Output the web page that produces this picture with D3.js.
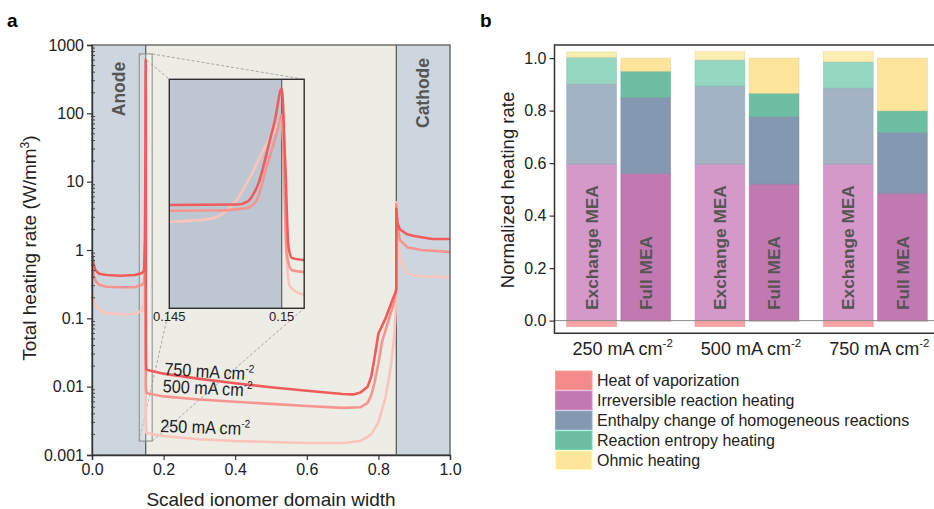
<!DOCTYPE html>
<html>
<head>
<meta charset="utf-8">
<script src="https://cdn.jsdelivr.net/npm/d3@7"></script>
<style>
  html, body { margin: 0; padding: 0; background: #fff; }
  svg { display: block; font-family: Arial, "Liberation Sans", sans-serif; }
</style>
</head>
<body>
<svg id="chart" width="934" height="509"></svg>
<script>
// ---------------- Panel a data ----------------
const currentLabels = ["750", "500", "250"];
const x750 = [0, 0.005, 0.01, 0.02, 0.04, 0.08, 0.12, 0.14, 0.1455, 0.148, 0.149, 0.1495, 0.15, 0.1502, 0.1505, 0.151, 0.152, 0.155, 0.2, 0.3, 0.4, 0.5, 0.6, 0.7, 0.73, 0.75, 0.77, 0.78, 0.79, 0.8, 0.82, 0.84, 0.849, 0.85, 0.85, 0.853, 0.86, 0.88, 0.9, 0.95, 1.0];
const y750 = [0.85, 0.6, 0.5, 0.45, 0.43, 0.42, 0.43, 0.46, 0.5, 1.5, 12, 56, 600, 5.6, 0.04, 0.02, 0.018, 0.0175, 0.0155, 0.013, 0.0112, 0.0098, 0.0087, 0.0078, 0.0077, 0.0082, 0.01, 0.014, 0.028, 0.06, 0.1, 0.19, 0.25, 0.27, 4.0, 2.5, 2.0, 1.7, 1.6, 1.45, 1.45];
const x500 = [0, 0.005, 0.01, 0.02, 0.04, 0.08, 0.12, 0.14, 0.1455, 0.148, 0.1493, 0.1498, 0.15, 0.1502, 0.1504, 0.151, 0.152, 0.155, 0.2, 0.3, 0.4, 0.5, 0.6, 0.7, 0.75, 0.77, 0.78, 0.79, 0.8, 0.81, 0.83, 0.845, 0.85, 0.85, 0.853, 0.86, 0.88, 0.92, 1.0];
const y500 = [0.57, 0.42, 0.35, 0.31, 0.29, 0.285, 0.285, 0.31, 0.34, 0.56, 3.8, 26, 400, 0.5, 0.01, 0.0088, 0.0082, 0.008, 0.0072, 0.0065, 0.006, 0.0056, 0.0052, 0.0049, 0.005, 0.0058, 0.0075, 0.012, 0.022, 0.045, 0.1, 0.18, 0.28, 4.7, 2.2, 1.4, 1.1, 1.0, 0.94];
const x250 = [0, 0.005, 0.01, 0.02, 0.03, 0.04, 0.08, 0.12, 0.14, 0.1455, 0.148, 0.1492, 0.1498, 0.15, 0.1501, 0.1502, 0.1504, 0.151, 0.152, 0.2, 0.3, 0.4, 0.5, 0.6, 0.7, 0.75, 0.78, 0.8, 0.82, 0.835, 0.845, 0.85, 0.85, 0.853, 0.86, 0.87, 0.88, 0.9, 1.0];
const y250 = [0.26, 0.19, 0.16, 0.135, 0.125, 0.12, 0.115, 0.116, 0.13, 0.17, 0.56, 9.9, 38, 250, 5.6, 0.018, 0.0038, 0.0024, 0.0021, 0.0019, 0.0017, 0.0016, 0.00155, 0.0015, 0.0015, 0.0016, 0.002, 0.003, 0.007, 0.02, 0.06, 0.2, 5.0, 2.0, 0.8, 0.55, 0.45, 0.42, 0.4];

// inset (zoom on x = 0.145 .. 0.151)
const ix750 = [0.145, 0.1480, 0.1485, 0.1487, 0.14897, 0.1492, 0.1494, 0.1497, 0.15, 0.15015, 0.1503, 0.15045, 0.151];
const iy750 = [0.42, 0.43, 0.52, 0.72, 1.48, 4.2, 12, 56, 345, 5.6, 0.038, 0.02, 0.0176];
const ix500 = [0.145, 0.147, 0.14844, 0.14889, 0.14933, 0.14978, 0.15, 0.15022, 0.15044, 0.151];
const iy500 = [0.30, 0.305, 0.35, 0.56, 3.8, 26, 74, 0.026, 0.0099, 0.0088];
const ix250 = [0.145, 0.14666, 0.1474, 0.148, 0.1486, 0.14918, 0.14978, 0.15, 0.1501, 0.15022, 0.15037, 0.151];
const iy250 = [0.16, 0.183, 0.259, 0.557, 2.13, 9.9, 37.9, 62.5, 5.57, 0.0176, 0.0038, 0.00235];

const aYTicks = [0.001, 0.01, 0.1, 1, 10, 100, 1000];
const aYTickLabels = ["0.001", "0.01", "0.1", "1", "10", "100", "1000"];
const aXTicks = [0, 0.2, 0.4, 0.6, 0.8, 1.0];
const aXTickLabels = ["0.0", "0.2", "0.4", "0.6", "0.8", "1.0"];
const insetXTicks = [0.145, 0.15];
const insetXTickLabels = ["0.145", "0.15"];

// ---------------- Panel b data ----------------
const groups = ["250", "500", "750"];
const meaTypes = ["Exchange MEA", "Full MEA"];
const components = ["Heat of vaporization", "Irreversible reaction heating", "Enthalpy change of homogeneous reactions", "Reaction entropy heating", "Ohmic heating"];
// order of bars: Ex250, Full250, Ex500, Full500, Ex750, Full750
const vaporization = [-0.023, -0.002, -0.023, -0.002, -0.023, -0.002];
const irreversible = [0.596, 0.561, 0.596, 0.520, 0.596, 0.485];
const enthalpy = [0.306, 0.290, 0.298, 0.257, 0.290, 0.232];
const entropy = [0.101, 0.099, 0.099, 0.089, 0.100, 0.082];
const ohmic = [0.021, 0.050, 0.032, 0.134, 0.039, 0.201];
const bYTicks = [0, 0.2, 0.4, 0.6, 0.8, 1.0];

// ---------------- styles ----------------
const lineColors = {"750": "#f25b5b", "500": "#f6958f", "250": "#fcc3bb"};
const fullColors = ["#f48a8a", "#c17ab1", "#8499b1", "#6dbfa3", "#fde59b"];
const exchColors = ["#f7a3a3", "#d498c9", "#a3b3c5", "#94d6c0", "#fbeeb1"];
const FONT = "Arial, 'Liberation Sans', sans-serif";

const svg = d3.select("#chart");

// ================= PANEL A =================
const ax = d3.scaleLinear().domain([0, 1]).range([92, 450]);
const ay = d3.scaleLog().domain([0.001, 1000]).range([455, 45]);

const gA = svg.append("g");
svg.append("defs").append("clipPath").attr("id", "clipA")
  .append("rect").attr("x", ax(0)).attr("y", ay(1000)).attr("width", ax(1) - ax(0)).attr("height", ay(0.001) - ay(1000));

// regions
gA.append("rect").attr("x", ax(0)).attr("y", ay(1000)).attr("width", ax(0.15) - ax(0)).attr("height", ay(0.001) - ay(1000)).attr("fill", "#cdd6df");
gA.append("rect").attr("x", ax(0.15)).attr("y", ay(1000)).attr("width", ax(0.85) - ax(0.15)).attr("height", ay(0.001) - ay(1000)).attr("fill", "#edece5");
gA.append("rect").attr("x", ax(0.85)).attr("y", ay(1000)).attr("width", ax(1) - ax(0.85)).attr("height", ay(0.001) - ay(1000)).attr("fill", "#cdd6df");
[0.15, 0.85].forEach(v => gA.append("line").attr("x1", ax(v)).attr("x2", ax(v)).attr("y1", ay(1000)).attr("y2", ay(0.001)).attr("stroke", "#555").attr("stroke-width", 1.2));

// region labels
gA.append("text").attr("transform", `translate(${ax(0.075) + 6},${89}) rotate(-90)`).attr("text-anchor", "middle")
  .attr("font-size", 17.5).attr("font-weight", "bold").attr("fill", "#555").attr("font-family", FONT).text("Anode");
gA.append("text").attr("transform", `translate(${ax(0.925) + 6},${93}) rotate(-90)`).attr("text-anchor", "middle")
  .attr("font-size", 17.5).attr("font-weight", "bold").attr("fill", "#555").attr("font-family", FONT).text("Cathode");

// inset geometry
const ix = d3.scaleLinear().domain([0.145, 0.151]).range([169.3, 304.2]);
const iy = d3.scaleLog().domain([0.0011, 580]).range([308.3, 79.3]);
// zoom rectangle in main plot
const zr = {x0: ax(0.132), x1: ax(0.168), y0: ay(740), y1: ay(0.0016)};
const connectors = [
  [zr.x0, zr.y0, ix(0.145), iy(580)],
  [zr.x1, zr.y0, ix(0.151), iy(580)],
  [zr.x0, zr.y1, ix(0.145), iy(0.0011)],
  [zr.x1, zr.y1, ix(0.151), iy(0.0011)]
];
connectors.forEach(c => gA.append("line").attr("x1", c[0]).attr("y1", c[1]).attr("x2", c[2]).attr("y2", c[3])
  .attr("stroke", "#a8a8a8").attr("stroke-width", 1).attr("stroke-dasharray", "3,2"));
gA.append("rect").attr("x", zr.x0).attr("y", zr.y0).attr("width", zr.x1 - zr.x0).attr("height", zr.y1 - zr.y0)
  .attr("fill", "#ffffff").attr("fill-opacity", 0.25).attr("stroke", "#8a8a8a").attr("stroke-width", 1);

// curves
const seriesMain = [
  {k: "250", xs: x250, ys: y250},
  {k: "500", xs: x500, ys: y500},
  {k: "750", xs: x750, ys: y750}
];
const lineA = d3.line().x(d => ax(d[0])).y(d => ay(d[1]));
const gCurves = gA.append("g").attr("clip-path", "url(#clipA)");
seriesMain.forEach(s => {
  const pts = s.xs.map((x, i) => [x, s.ys[i]]);
  gCurves.append("path").datum(pts).attr("d", lineA).attr("fill", "none")
    .attr("stroke", lineColors[s.k]).attr("stroke-width", 2.6).attr("stroke-linejoin", "round");
});

// curve labels
function currentLabel(g, x, y, rot, val, fs) {
  const t = g.append("text").attr("transform", `translate(${x},${y}) rotate(${rot}) scale(0.9,1)`)
    .attr("font-size", fs).attr("font-family", FONT).attr("fill", "#222");
  t.append("tspan").text(val + " mA cm");
  t.append("tspan").attr("font-size", fs * 0.62).attr("dy", -fs * 0.42).text("-2");
}
currentLabel(gA, 164, 375, 3.5, "750", 18);
currentLabel(gA, 162.5, 392, 3, "500", 18);
currentLabel(gA, 160, 432, 2, "250", 18);

// inset
const gI = svg.append("g");
svg.select("defs").append("clipPath").attr("id", "clipI")
  .append("rect").attr("x", ix(0.145)).attr("y", iy(580)).attr("width", ix(0.151) - ix(0.145)).attr("height", iy(0.0011) - iy(580));
gI.append("rect").attr("x", ix(0.145)).attr("y", iy(580)).attr("width", ix(0.15) - ix(0.145)).attr("height", iy(0.0011) - iy(580)).attr("fill", "#bdc7d1");
gI.append("rect").attr("x", ix(0.15)).attr("y", iy(580)).attr("width", ix(0.151) - ix(0.15)).attr("height", iy(0.0011) - iy(580)).attr("fill", "#edece5");
gI.append("line").attr("x1", ix(0.15)).attr("x2", ix(0.15)).attr("y1", iy(580)).attr("y2", iy(0.0011)).attr("stroke", "#555").attr("stroke-width", 1.1);
const seriesInset = [
  {k: "250", xs: ix250, ys: iy250},
  {k: "500", xs: ix500, ys: iy500},
  {k: "750", xs: ix750, ys: iy750}
];
const lineI = d3.line().x(d => ix(d[0])).y(d => iy(d[1])).curve(d3.curveMonotoneX);
const gIc = gI.append("g").attr("clip-path", "url(#clipI)");
seriesInset.forEach(s => {
  const pts = s.xs.map((x, i) => [x, s.ys[i]]);
  gIc.append("path").datum(pts).attr("d", lineI).attr("fill", "none")
    .attr("stroke", lineColors[s.k]).attr("stroke-width", 2.6).attr("stroke-linejoin", "round");
});
gI.append("rect").attr("x", ix(0.145)).attr("y", iy(580)).attr("width", ix(0.151) - ix(0.145)).attr("height", iy(0.0011) - iy(580))
  .attr("fill", "none").attr("stroke", "#2f2f2f").attr("stroke-width", 1.4);
insetXTicks.forEach((t, i) => gI.append("text").attr("x", ix(t)).attr("y", 321).attr("text-anchor", "middle")
  .attr("font-size", 13).attr("font-family", FONT).attr("fill", "#222").text(insetXTickLabels[i]));

// frame (top/right)
gA.append("rect").attr("x", ax(0)).attr("y", ay(1000)).attr("width", ax(1) - ax(0)).attr("height", ay(0.001) - ay(1000))
  .attr("fill", "none").attr("stroke", "#666").attr("stroke-width", 1.4);

// axes
const yAxisA = gA.append("g").attr("transform", `translate(${ax(0)},0)`)
  .call(d3.axisLeft(ay).tickValues(aYTicks).tickFormat((d, i) => aYTickLabels[i]).tickSize(5).tickPadding(3));
const minorY = [];
aYTicks.slice(0, -1).forEach(dec => { for (let k = 2; k <= 9; k++) minorY.push(dec * k); });
gA.append("g").attr("transform", `translate(${ax(0)},0)`).selectAll("line").data(minorY).join("line")
  .attr("x1", -1).attr("x2", 3).attr("y1", d => ay(d)).attr("y2", d => ay(d)).attr("stroke", "#444").attr("stroke-width", 1);
const xAxisA = gA.append("g").attr("transform", `translate(0,${ay(0.001)})`)
  .call(d3.axisBottom(ax).tickValues(aXTicks).tickFormat((d, i) => aXTickLabels[i]).tickSize(5).tickPadding(4));
[yAxisA, xAxisA].forEach(g => {
  g.select(".domain").attr("stroke", "#333").attr("stroke-width", 1.4);
  g.selectAll(".tick line").attr("stroke", "#333").attr("stroke-width", 1.2);
  g.selectAll(".tick text").attr("font-size", 16).attr("font-family", FONT).attr("fill", "#222");
});

// axis titles
const yt = gA.append("text").attr("transform", `translate(36,248) rotate(-90)`).attr("text-anchor", "middle")
  .attr("font-size", 19).attr("font-family", FONT).attr("fill", "#222");
yt.append("tspan").text("Total heating rate (W/mm");
yt.append("tspan").attr("font-size", 12).attr("dy", -7).text("3");
yt.append("tspan").attr("dy", 7).text(")");
gA.append("text").attr("x", ax(0.5)).attr("y", 506).attr("text-anchor", "middle").attr("font-size", 19)
  .attr("font-family", FONT).attr("fill", "#222").text("Scaled ionomer domain width");
svg.append("text").attr("x", 7).attr("y", 27).attr("font-size", 19).attr("font-weight", "bold").attr("font-family", FONT).text("a");

// ================= PANEL B =================
const gB = svg.append("g");
const bx0 = d3.scaleBand().domain(groups).range([554.5, 939.5]).paddingInner(0).paddingOuter(0);
const bx1 = d3.scaleBand().domain(meaTypes).range([0, bx0.bandwidth()]).paddingInner(0.08).paddingOuter(0.225);
const by = d3.scaleLinear().domain([-0.0483, 1.05]).range([333.3, 45]);

const compArrays = [vaporization, irreversible, enthalpy, entropy, ohmic];
const bars = [];
groups.forEach((g, gi) => meaTypes.forEach((m, mi) => bars.push({g, m, idx: gi * 2 + mi, exch: mi === 0})));

svg.select("defs").append("clipPath").attr("id", "clipB")
  .append("rect").attr("x", 554.5).attr("y", 45).attr("width", 400).attr("height", 288.3);
const gBars = gB.append("g").attr("clip-path", "url(#clipB)");

bars.forEach(b => {
  const x = bx0(b.g) + bx1(b.m);
  const w = bx1.bandwidth();
  const cols = b.exch ? exchColors : fullColors;
  // negative (vaporization)
  const v = compArrays[0][b.idx];
  gBars.append("rect").attr("x", x).attr("width", w).attr("y", by(0)).attr("height", by(v) - by(0))
    .attr("fill", cols[0]).attr("stroke", d3.color(cols[0]).darker(0.4)).attr("stroke-width", 0.8).attr("stroke-opacity", 0.6);
  let cum = 0;
  for (let c = 1; c < compArrays.length; c++) {
    const val = compArrays[c][b.idx];
    gBars.append("rect").attr("x", x).attr("width", w).attr("y", by(cum + val)).attr("height", by(cum) - by(cum + val))
      .attr("fill", cols[c]).attr("stroke", d3.color(cols[c]).darker(0.35)).attr("stroke-width", 0.8).attr("stroke-opacity", 0.55);
    cum += val;
  }
  gBars.append("text").attr("transform", `translate(${x + w / 2 + 6.2},310) rotate(-90)`)
    .attr("font-size", 17.3).attr("font-weight", "bold").attr("fill", "#555").attr("font-family", FONT).text(b.m);
});

// zero line
gB.append("line").attr("x1", 554.5).attr("x2", 934).attr("y1", by(0)).attr("y2", by(0)).attr("stroke", "#8a8a8a").attr("stroke-width", 1);

// frame
gB.append("path").attr("d", `M940,45 H554.5 V333.3 H940`).attr("fill", "none").attr("stroke", "#333").attr("stroke-width", 1.5);

// y axis
const yAxisB = gB.append("g").attr("transform", "translate(554.5,0)")
  .call(d3.axisLeft(by).tickValues(bYTicks).tickFormat(d3.format(".1f")).tickSize(5).tickPadding(3));
yAxisB.select(".domain").remove();
yAxisB.selectAll(".tick line").attr("stroke", "#333").attr("stroke-width", 1.2);
yAxisB.selectAll(".tick text").attr("font-size", 16).attr("font-family", FONT).attr("fill", "#222");

// x labels
groups.forEach(g => {
  const t = gB.append("text").attr("x", bx0(g) + bx0.bandwidth() / 2 + 4).attr("y", 355).attr("text-anchor", "middle")
    .attr("font-size", 18).attr("font-family", FONT).attr("fill", "#222");
  t.append("tspan").text(g + " mA cm");
  t.append("tspan").attr("font-size", 11.5).attr("dy", -8).text("-2");
});

// y title
gB.append("text").attr("transform", "translate(514,190) rotate(-90)").attr("text-anchor", "middle")
  .attr("font-size", 18.5).attr("font-family", FONT).attr("fill", "#222").text("Normalized heating rate");
svg.append("text").attr("x", 480).attr("y", 27).attr("font-size", 19).attr("font-weight", "bold").attr("font-family", FONT).text("b");

// legend
const gL = gB.append("g");
components.forEach((c, i) => {
  const y0 = 371 + i * 20;
  gL.append("rect").attr("x", 555.5).attr("y", y0).attr("width", 36.5).attr("height", 18.5)
    .attr("fill", fullColors[i]).attr("stroke", d3.color(fullColors[i]).brighter(0.3)).attr("stroke-width", 1);
  gL.append("text").attr("x", 597).attr("y", y0 + 15).attr("font-size", 16).attr("font-family", FONT).attr("fill", "#222").text(c);
});
</script>
</body>
</html>
